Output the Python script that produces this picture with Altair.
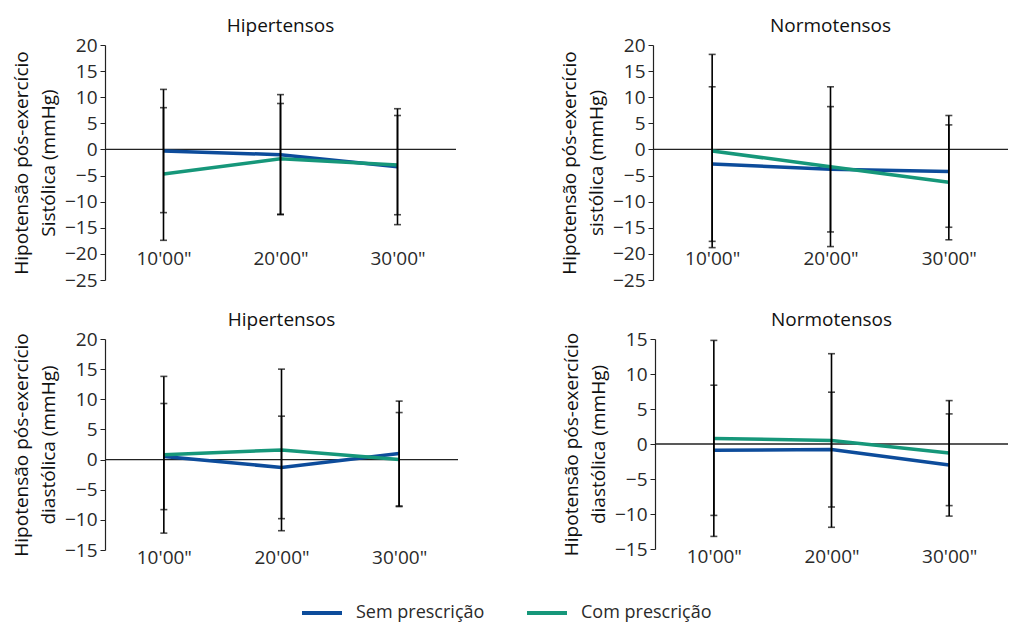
import altair as alt
import pandas as pd

FONT = "Open Sans"
BLUE = "#0D4C9B"
GREEN = "#16977A"
TXT = "#2a2a2a"

times = ["10'00\"", "20'00\"", "30'00\""]
series = ["Sem prescrição", "Com prescrição"]

# Hipertensos - sistólica
hs_sem_mean = [-0.3, -1.0, -3.3]
hs_sem_sd = [11.8, 11.5, 11.1]
hs_com_mean = [-4.7, -1.8, -3.0]
hs_com_sd = [12.7, 10.6, 9.5]
# Normotensos - sistólica
ns_sem_mean = [-2.8, -3.8, -4.2]
ns_sem_sd = [14.8, 12.0, 10.7]
ns_com_mean = [-0.3, -3.3, -6.3]
ns_com_sd = [18.5, 15.3, 11.0]
# Hipertensos - diastólica
hd_sem_mean = [0.5, -1.3, 1.0]
hd_sem_sd = [8.8, 8.5, 8.7]
hd_com_mean = [0.8, 1.6, 0.0]
hd_com_sd = [13.0, 13.4, 7.8]
# Normotensos - diastólica
nd_sem_mean = [-0.9, -0.8, -3.0]
nd_sem_sd = [9.3, 8.2, 7.3]
nd_com_mean = [0.8, 0.5, -1.3]
nd_com_sd = [14.0, 12.4, 7.5]


def panel(sem_mean, sem_sd, com_mean, com_sd, title, ytitle, ymin, ymax, w, h, label_pad):
    rows = []
    for s, m, sd in [(series[0], sem_mean, sem_sd), (series[1], com_mean, com_sd)]:
        for t, mi, si in zip(times, m, sd):
            rows.append({"time": t, "series": s, "mean": mi, "lo": mi - si, "hi": mi + si})
    df = pd.DataFrame(rows)
    base = alt.Chart(df)
    x = alt.X("time:N", sort=times, scale=alt.Scale(type="point", padding=0.5),
              axis=alt.Axis(title=None, ticks=False, domain=False, labelPadding=label_pad,
                            labelAngle=0, labelFontSize=19, labelColor=TXT, labelFont=FONT))
    yscale = alt.Scale(domain=[ymin, ymax], nice=False, zero=False)
    yaxis = alt.Axis(values=list(range(ymin, ymax + 1, 5)), title=ytitle, grid=False,
                     tickSize=5, tickColor="#222", domainColor="#222", domainWidth=1.2,
                     labelFontSize=19, labelColor=TXT, labelFont=FONT, labelPadding=3,
                     titleFontSize=19, titleFont=FONT, titleColor="#111",
                     titleFontWeight="normal", titleLineHeight=27, titlePadding=6)
    zero = alt.Chart(pd.DataFrame({"z": [0]})).mark_rule(color="#222", strokeWidth=1.3).encode(
        y=alt.Y("z:Q", scale=yscale, axis=yaxis))
    line = base.mark_line(strokeWidth=3.5).encode(
        x=x, y=alt.Y("mean:Q", scale=yscale, axis=yaxis),
        color=alt.Color("series:N", sort=series,
                        scale=alt.Scale(domain=series, range=[BLUE, GREEN]),
                        legend=alt.Legend(orient="none", legendX=195, legendY=546,
                                          direction="horizontal", title=None,
                                          symbolType="stroke", symbolStrokeWidth=4,
                                          symbolSize=1600, labelFontSize=18, labelFont=FONT,
                                          labelColor=TXT, columnPadding=34, labelOffset=12)),
    )
    bar = base.mark_rule(color="black", strokeWidth=1.6).encode(
        x=x, y=alt.Y("lo:Q", scale=yscale, axis=yaxis), y2="hi:Q")
    cap_lo = base.mark_tick(color="black", size=7, thickness=1.6).encode(
        x=x, y=alt.Y("lo:Q", scale=yscale, axis=yaxis))
    cap_hi = base.mark_tick(color="black", size=7, thickness=1.6).encode(
        x=x, y=alt.Y("hi:Q", scale=yscale, axis=yaxis))
    return alt.layer(zero, line, bar, cap_lo, cap_hi).properties(
        width=w, height=h,
        title=alt.TitleParams(title, fontSize=19, font=FONT, color="#111",
                              fontWeight="normal", offset=0))


p1 = panel(hs_sem_mean, hs_sem_sd, hs_com_mean, hs_com_sd, "Hipertensos",
           ["Hipotensão pós-exercício", "Sistólica (mmHg)"], -25, 20, 351, 235, -31)
p2 = panel(ns_sem_mean, ns_sem_sd, ns_com_mean, ns_com_sd, "Normotensos",
           ["Hipotensão pós-exercício", "sistólica (mmHg)"], -25, 20, 355, 235, -31)
p3 = panel(hd_sem_mean, hd_sem_sd, hd_com_mean, hd_com_sd, "Hipertensos",
           ["Hipotensão pós-exercício", "diastólica (mmHg)"], -15, 20, 353, 211, -2)
p4 = panel(nd_sem_mean, nd_sem_sd, nd_com_mean, nd_com_sd, "Normotensos",
           ["Hipotensão pós-exercício", "diastólica (mmHg)"], -15, 15, 353, 210, -2)

row1 = alt.hconcat(p1, p2, spacing=103)
row2 = alt.hconcat(p3, p4, spacing=103)
chart = alt.vconcat(row1, row2, spacing=21).properties(
    padding={"left": 12, "top": 17, "right": 0, "bottom": 0},
    background="white",
).configure_view(stroke=None)

chart.save("out.html", embed_options={"renderer": "svg", "actions": False})
